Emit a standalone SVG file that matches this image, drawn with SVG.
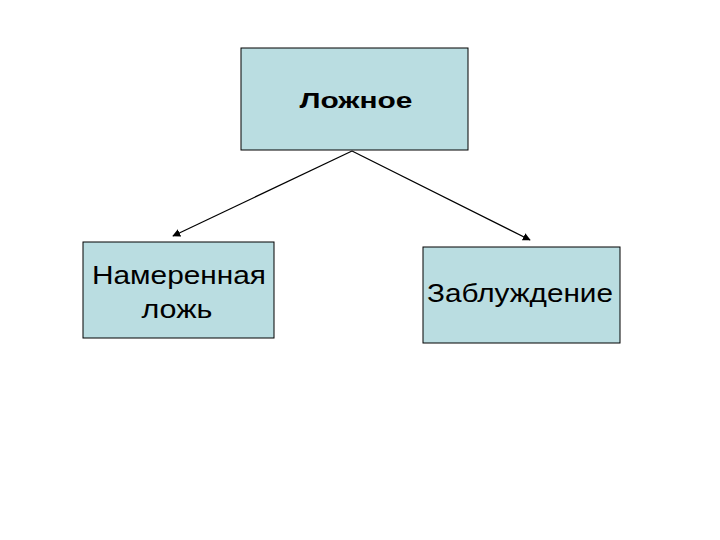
<svg xmlns="http://www.w3.org/2000/svg" width="720" height="540" viewBox="0 0 720 540">
<style>
.box{fill:#badde1;stroke:#000;stroke-width:1}
.t{font-family:"Liberation Sans",Arial,sans-serif;fill:#000;text-anchor:middle}
.c{stroke:#000;stroke-width:1.2;fill:none;marker-end:url(#ah)}
</style>
<defs>
<marker id="ah" viewBox="0 0 10 10" refX="9" refY="5" markerWidth="8" markerHeight="8" markerUnits="userSpaceOnUse" orient="auto">
<path d="M0,0 L10,5 L0,10 Z" fill="#000"/>
</marker>
</defs>
<rect width="720" height="540" fill="#fff"/>
<g id="connectors">
<line class="c" x1="352" y1="151" x2="173" y2="236"/>
<line class="c" x1="352" y1="151" x2="530" y2="240"/>
</g>
<g id="node-false">
<rect class="box" x="241" y="48" width="227" height="102"/>
<text class="t" x="356" y="108" font-size="22" font-weight="bold" textLength="113" lengthAdjust="spacingAndGlyphs">Ложное</text>
</g>
<g id="node-lie">
<rect class="box" x="83" y="242" width="191" height="96"/>
<text class="t" x="179" y="284" font-size="25" textLength="174" lengthAdjust="spacingAndGlyphs">Намеренная</text>
<text class="t" x="177" y="318" font-size="25" textLength="71" lengthAdjust="spacingAndGlyphs">ложь</text>
</g>
<g id="node-error">
<rect class="box" x="423" y="247" width="197" height="96"/>
<text class="t" x="520" y="302" font-size="25" textLength="186" lengthAdjust="spacingAndGlyphs">Заблуждение</text>
</g>
</svg>
